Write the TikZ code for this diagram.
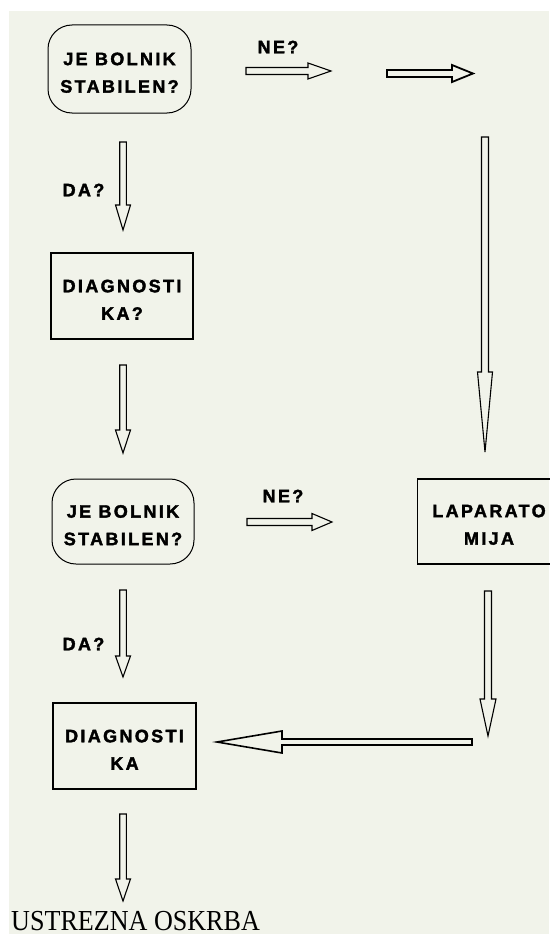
\documentclass[tikz,border=0pt]{standalone}
\usepackage{fontspec}
\setmainfont{Liberation Serif}
\newfontfamily\boxfont[LetterSpace=13, FakeBold=2]{Liberation Sans Bold}
\usetikzlibrary{calc}
\definecolor{bgc}{HTML}{F1F3EA}
\newcommand\fstrut{\rule{0pt}{20pt}}
\tikzset{
  barrow/.style n args={3}{to path={
    let \p1=(\tikztostart), \p2=(\tikztotarget),
        \n1={atan2(\y2-\y1,\x2-\x1)},
        \p3=($(\p2)+(\n1+180:#3)$) in
    ($(\p1)+(\n1+90:#1)$) -- ($(\p3)+(\n1+90:#1)$) -- ($(\p3)+(\n1+90:#2)$)
    -- (\p2) -- ($(\p3)+(\n1-90:#2)$) -- ($(\p3)+(\n1-90:#1)$)
    -- ($(\p1)+(\n1-90:#1)$) -- cycle}},
  arr/.style={draw=black, line width=1.1pt, line join=miter},
  boxtxt/.style={font=\boxfont\fontsize{18}{27.5}\selectfont, align=center, inner sep=0pt},
  decision/.style={boxtxt, draw, line width=1pt, rounded corners=24pt, inner sep=0pt},
  process/.style={boxtxt, draw, line width=1.1pt, inner sep=0pt},
  lbl/.style={font=\boxfont\fontsize{18}{20}\selectfont, inner sep=0pt}
}
\begin{document}
\begin{tikzpicture}[x=1pt, y=-1pt]
\useasboundingbox (0,0) rectangle (549,934);
\fill[white] (0,0) rectangle (549,934);
\fill[bgc] (9,11) rectangle (549,934);

% nodes
\node[decision, minimum width=143pt, minimum height=88pt] (q1) at (119.5,69) {\fstrut JE BOLNIK\\STABILEN?};
\node[process, minimum width=142pt, minimum height=86pt] (d1) at (122,296) {\fstrut DIAGNOSTI\\KA?};
\node[decision, minimum width=142pt, minimum height=85pt] (q2) at (123,521.5) {\fstrut JE BOLNIK\\STABILEN?};
\node[draw, line width=1.1pt, minimum width=150pt, minimum height=85pt, anchor=west, inner sep=0pt] (lapbox) at (417,521.5) {};
\node[boxtxt] (lap) at (489,521) {\fstrut LAPARATO\\MIJA};
\node[process, minimum width=143pt, minimum height=86pt] (d2) at (124.5,746) {\fstrut DIAGNOSTI\\KA};
\node[font=\fontsize{29}{32}\selectfont, anchor=base west, inner sep=0pt] (care) at (11,930) {\scalebox{0.9}[1]{USTREZNA OSKRBA}};

% labels
\node[lbl] (ne1) at (278,47) {NE?};
\node[lbl] (da1) at (83.5,190) {DA?};
\node[lbl] (ne2) at (283,496) {NE?};
\node[lbl] (da2) at (83.5,644) {DA?};

% arrow end points
\coordinate (a1s) at (246,71);   \coordinate (a1e) at (331,71);
\coordinate (a2s) at (387,73.5); \coordinate (a2e) at (473,73.5);
\coordinate (a3s) at (485,137);  \coordinate (a3e) at (485,452);
\coordinate (a4s) at (123,142);  \coordinate (a4e) at (123,230);
\coordinate (a5s) at (123,365);  \coordinate (a5e) at (123,453);
\coordinate (a6s) at (247,522);  \coordinate (a6e) at (332,522);
\coordinate (a10s) at (123,590); \coordinate (a10e) at (123,677);
\coordinate (a7s) at (488,591);  \coordinate (a7e) at (488,736);
\coordinate (a8s) at (472,742);  \coordinate (a8e) at (217,742);
\coordinate (a9s) at (123,814);  \coordinate (a9e) at (123,901);

% arrows
\draw[arr, barrow={3.5pt}{8pt}{23pt}] (a1s) to (a1e);
\draw[arr, line width=1.8pt, barrow={3.5pt}{8.5pt}{21pt}] (a2s) to (a2e);
\draw[arr, barrow={3.5pt}{7.5pt}{80pt}] (a3s) to (a3e);
\draw[arr, barrow={3.3pt}{7.5pt}{25pt}] (a4s) to (a4e);
\draw[arr, barrow={3.3pt}{7.5pt}{23pt}] (a5s) to (a5e);
\draw[arr, barrow={3.5pt}{8.5pt}{20pt}] (a6s) to (a6e);
\draw[arr, barrow={3.3pt}{7.5pt}{21pt}] (a10s) to (a10e);
\draw[arr, barrow={3.5pt}{8pt}{37pt}] (a7s) to (a7e);
\draw[arr, line width=1.6pt, barrow={3pt}{11pt}{65pt}] (a8s) to (a8e);
\draw[arr, barrow={3.3pt}{7.5pt}{22pt}] (a9s) to (a9e);
\end{tikzpicture}
\end{document}
